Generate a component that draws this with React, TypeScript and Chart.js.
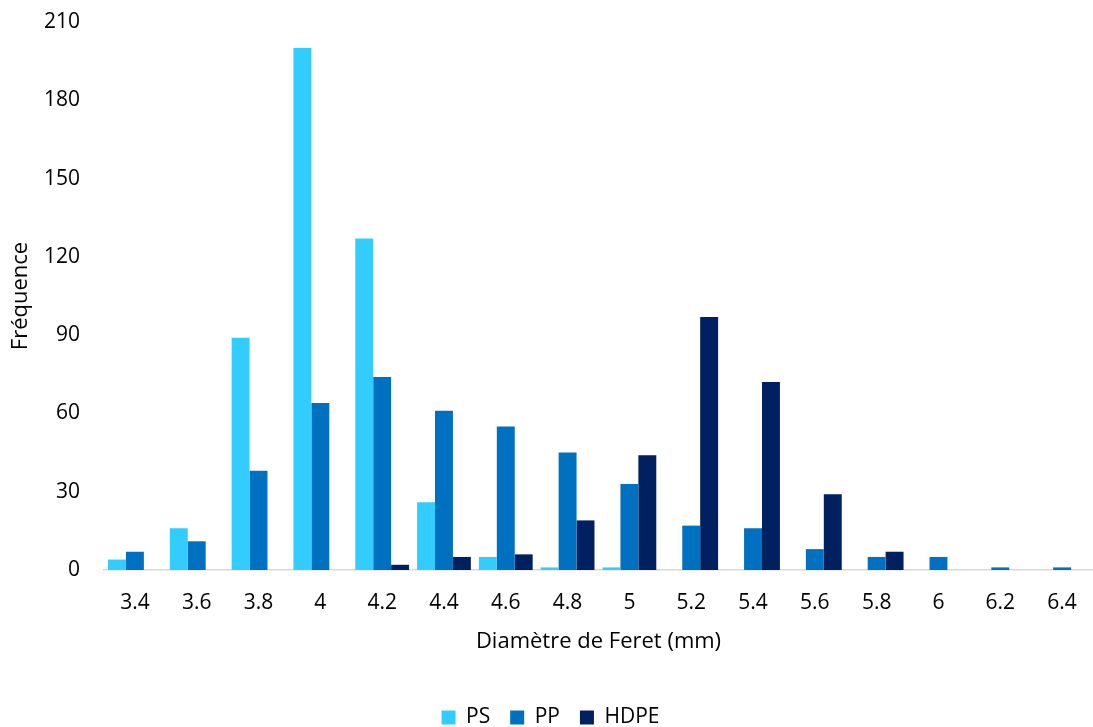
import React, { useEffect, useRef } from "react";
import { Chart, registerables } from "chart.js";

Chart.register(...registerables);

const categories = ["3.4", "3.6", "3.8", "4", "4.2", "4.4", "4.6", "4.8", "5", "5.2", "5.4", "5.6", "5.8", "6", "6.2", "6.4"];
const psValues = [4, 16, 89, 200, 127, 26, 5, 1, 1, 0, 0, 0, 0, 0, 0, 0];
const ppValues = [7, 11, 38, 64, 74, 61, 55, 45, 33, 17, 16, 8, 5, 5, 1, 1];
const hdpeValues = [0, 0, 0, 0, 2, 5, 6, 19, 44, 97, 72, 29, 7, 0, 0, 0];
const yTicks = [0, 30, 60, 90, 120, 150, 180, 210];

const FONT = "'Open Sans', 'Liberation Sans', sans-serif";

export default function App() {
  const ref = useRef<HTMLCanvasElement | null>(null);
  useEffect(() => {
    document.body.style.margin = "0";
    const ctx = ref.current!;
    const chart = new Chart(ctx, {
      type: "bar",
      data: {
        labels: categories,
        datasets: [
          { label: "PS", data: psValues, backgroundColor: "#33CCFF" },
          { label: "PP", data: ppValues, backgroundColor: "#0070C0" },
          { label: "HDPE", data: hdpeValues, backgroundColor: "#002060" },
        ],
      },
      options: {
        animation: false,
        responsive: false,
        maintainAspectRatio: false,
        layout: { padding: { top: 0, right: 0, left: 8, bottom: -11 } },
        datasets: { bar: { categoryPercentage: 0.87, barPercentage: 1.0 } },
        plugins: {
          legend: {
            position: "bottom",
            labels: {
              boxWidth: 14,
              boxHeight: 14,
              padding: 20,
              color: "#000",
              font: { family: FONT, size: 21 },
            },
          },
          tooltip: { enabled: false },
        },
        scales: {
          x: {
            afterFit: (axis: any) => {
              axis.height = 117;
              axis.paddingLeft = 0;
              axis.paddingRight = 0;
            },
            grid: { display: false, drawTicks: false },
            border: { display: true, color: "#d9d9d9", width: 1.5 },
            ticks: { color: "#000", font: { family: FONT, size: 21 }, padding: 20 },
            title: {
              display: true,
              text: "Diamètre de Feret (mm)",
              color: "#000",
              font: { family: FONT, size: 22 },
              padding: { top: 14, bottom: 32 },
            },
          },
          y: {
            min: 0,
            max: 210,
            afterBuildTicks: (axis: any) => {
              axis.ticks = yTicks.map((v) => ({ value: v }));
            },
            afterFit: (axis: any) => {
              axis.width = 96;
              axis.paddingTop = 22;
              axis.paddingBottom = 0;
            },
            grid: { display: false, drawTicks: false },
            border: { display: false },
            ticks: { color: "#000", font: { family: FONT, size: 21 }, padding: 24 },
            title: {
              display: true,
              text: "Fréquence",
              color: "#000",
              font: { family: FONT, size: 22 },
              padding: { top: 0, bottom: 10 },
            },
          },
        },
      },
    } as any);
    return () => chart.destroy();
  }, []);
  return (
    <div style={{ width: 1093, height: 727 }}>
      <canvas ref={ref} width={1093} height={727} style={{ display: "block" }} />
    </div>
  );
}
